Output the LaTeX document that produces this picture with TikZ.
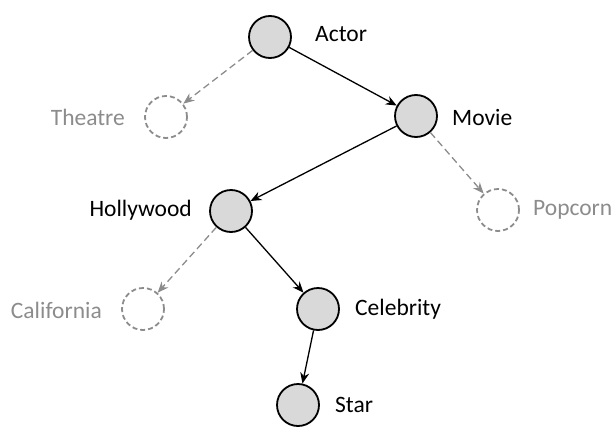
\documentclass[tikz,border=0pt]{standalone}
\usepackage{fontspec}
\setmainfont{Carlito}
\usetikzlibrary{arrows.meta}
\definecolor{nodefill}{HTML}{D9D9D9}
\definecolor{ghost}{HTML}{8C8C8C}
\tikzset{
  real/.style={circle,draw=black,fill=nodefill,line width=1.8pt,minimum size=42pt,inner sep=0pt},
  ghostnode/.style={circle,draw=ghost,dash pattern=on 5pt off 3pt,line width=1.8pt,minimum size=42pt,inner sep=0pt},
  lab/.style={font=\fontsize{23.5}{26}\selectfont,text=black,inner sep=0pt},
  ghostlab/.style={font=\fontsize{23.5}{26}\selectfont,text=ghost,inner sep=0pt},
  edge/.style={draw=black,line width=1.3pt,-{Stealth[length=11pt,width=9pt]}},
  ghostedge/.style={draw=ghost,line width=1.3pt,dash pattern=on 7pt off 4pt,-{Stealth[length=11pt,width=9pt]}}
}
\begin{document}
\begin{tikzpicture}[x=1pt,y=-1pt]
\useasboundingbox (0,0) rectangle (615,431);
\node[real] (actor) at (270,37) {};
\node[ghostnode] (theatre) at (166,117) {};
\node[real] (movie) at (416,116) {};
\node[ghostnode] (popcorn) at (498,210) {};
\node[real] (hollywood) at (231,211) {};
\node[ghostnode] (california) at (143,309) {};
\node[real] (celebrity) at (318,309) {};
\node[real] (star) at (298,405) {};

\node[lab,anchor=west] (lactor) at (315,34) {Actor};
\node[ghostlab,anchor=east] (ltheatre) at (125,117) {Theatre};
\node[lab,anchor=west] (lmovie) at (452,117) {Movie};
\node[ghostlab,anchor=west] (lpopcorn) at (533,210) {Popcorn};
\node[lab,anchor=east] (lhollywood) at (192,210) {Hollywood};
\node[ghostlab,anchor=east] (lcalifornia) at (102,310) {California};
\node[lab,anchor=west] (lcelebrity) at (355,309) {Celebrity};
\node[lab,anchor=west] (lstar) at (335,405) {Star};

\draw[ghostedge] (actor) -- (theatre);
\draw[edge] (actor) -- (movie);
\draw[edge] (movie) -- (hollywood);
\draw[ghostedge] (movie) -- (popcorn);
\draw[ghostedge] (hollywood) -- (california);
\draw[edge] (hollywood) -- (celebrity);
\draw[edge] (celebrity) -- (star);
\end{tikzpicture}
\end{document}
